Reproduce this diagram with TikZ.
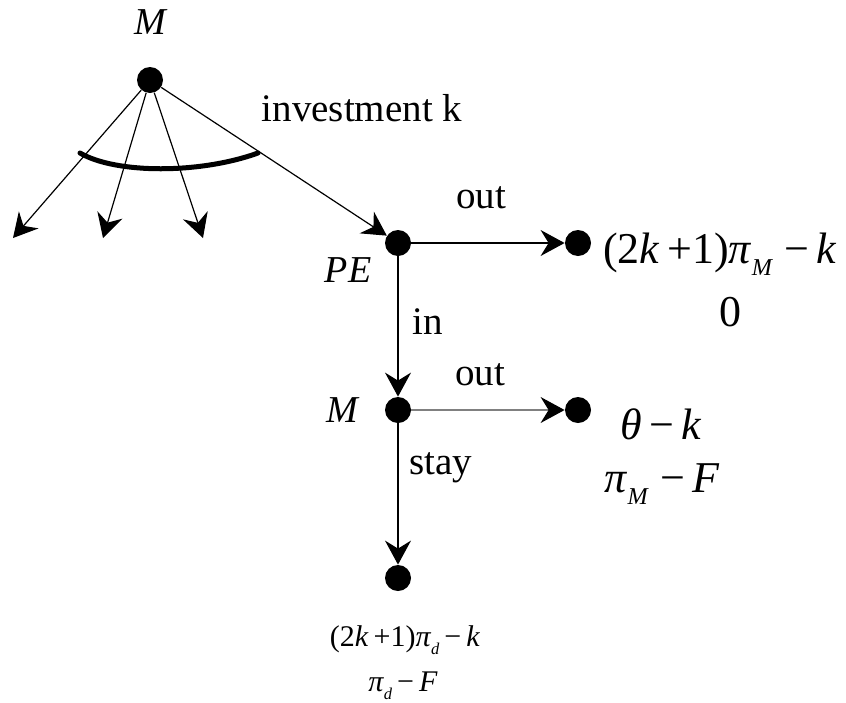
\documentclass[tikz,border=0pt]{standalone}
\usepackage{fontspec}
\setmainfont{Liberation Serif}
\usetikzlibrary{arrows.meta, positioning}

\newcommand{\lowsub}[1]{\raisebox{-0.6ex}{\scalebox{0.55}{\itshape #1}}}

\begin{document}
\begin{tikzpicture}[
    x=1pt, y=1pt,
    on grid,
    decision/.style={circle, fill=black, inner sep=0pt, minimum size=13pt},
    move/.style={-{Stealth[length=12pt, width=13pt, inset=4pt]}, line width=0.6pt},
    player/.style={font=\fontsize{19}{22}\selectfont\itshape},
    action/.style={font=\fontsize{19.5}{23}\selectfont},
    payoff/.style={font=\fontsize{22}{26}\selectfont},
    smallpayoff/.style={font=\fontsize{15}{18}\selectfont},
    info/.style={line width=2.5pt, line cap=round}
]
\useasboundingbox (0,0) rectangle (423,-351);

% Decision nodes
\node[decision] (M1) at (75,-40) {};
\node[decision, below right=81.5pt and 124pt of M1] (PE) {};
\node[decision, right=90pt of PE] (PEout) {};
\node[decision, below=83.5pt of PE] (M2) {};
\node[decision, right=90pt of M2] (M2out) {};
\node[decision, below=84pt of M2] (M2stay) {};

% Free ends of the other investment levels
\coordinate[below left=79pt and 68.5pt of M1] (k1);
\coordinate[below left=79pt and 23.5pt of M1] (k2);
\coordinate[below right=79pt and 26.5pt of M1] (k3);

% Players
\node[player, above=29pt of M1] (lM1) {M};
\node[player, below left=13.5pt and 25pt of PE] (lPE) {PE};
\node[player, left=28pt of M2] (lM2) {M};

% Actions
\node[action, below right=14pt and 106pt of M1] (lInv) {investment k};
\node[action, above right=22.5pt and 41.5pt of PE] (lOut1) {out};
\node[action, below right=39.5pt and 15pt of PE] (lIn) {in};
\node[action, above right=17.5pt and 41pt of M2] (lOut2) {out};
\node[action, below right=29pt and 21.5pt of M2] (lStay) {stay};

% Payoffs
\node[payoff, below right=5.5pt and 71pt of PEout] (p1a) {(2\textit{k}\,+1)\textit{π}\lowsub{M}\;−\,\textit{k}};
\node[payoff, below right=34.5pt and 76pt of PEout] (p1b) {0};
\node[payoff, below right=7pt and 41.5pt of M2out] (p2a) {\textit{θ}\,−\,\textit{k}};
\node[payoff, below right=37pt and 42pt of M2out] (p2b) {\textit{π}\lowsub{M}\;−\,\textit{F}};
\node[smallpayoff, below right=31pt and 3.5pt of M2stay] (p3a) {(2\textit{k}\,+1)\textit{π}\lowsub{d}\,−\,\textit{k}};
\node[smallpayoff, below right=54pt and 2.5pt of M2stay] (p3b) {\textit{π}\lowsub{d}\,−\,\textit{F}};

% Edges
\draw[move] (M1) -- (k1);
\draw[move] (M1) -- (k2);
\draw[move] (M1) -- (k3);
\draw[move] (M1) -- (PE);
\draw[info] (40,-76.5) .. controls (58,-87) and (100,-87) .. (129,-76.5);
\draw[move] (PE) -- (PEout);
\draw[move] (PE) -- (M2);
\draw[move, draw=black!50, -{Stealth[length=12pt, width=13pt, inset=4pt, black]}] (M2) -- (M2out);
\draw[move] (M2) -- (M2stay);

\end{tikzpicture}
\end{document}
